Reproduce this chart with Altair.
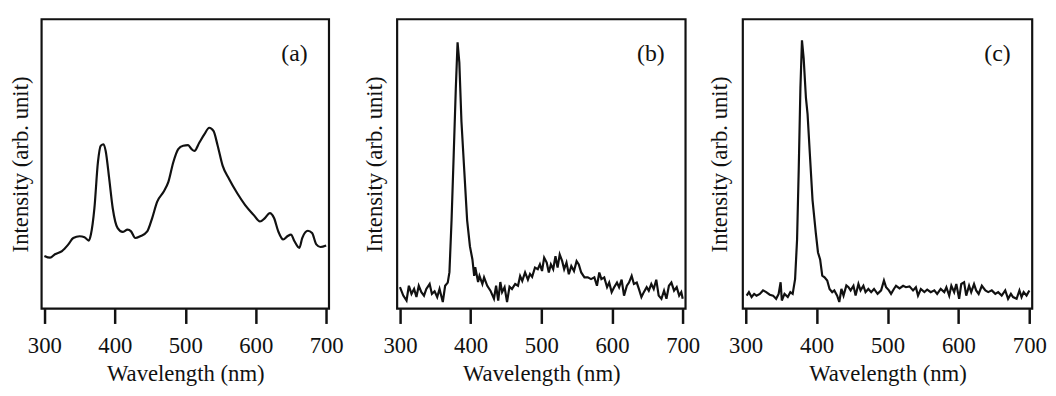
import altair as alt
import pandas as pd

# ---------------- data ----------------
wl_a = [300, 308, 315, 325, 334, 341, 350, 357, 363, 366, 371, 376, 380, 384, 387, 392,
        397, 404, 411, 418, 423, 429, 436, 446, 453, 460, 469, 476, 483, 490, 497, 504,
        509, 513, 520, 527, 534, 540, 546, 553, 562, 574, 585, 597, 606, 613, 620, 626,
        632, 639, 645, 650, 655, 662, 666, 674, 680, 686, 692, 700]
int_a = [18.2, 17.6, 18.8, 19.9, 22.2, 24.4, 25.0, 24.7, 23.5, 25.6, 34.7, 50.6, 56.3, 56.8, 54.5, 44.9,
         34.7, 27.8, 26.5, 27.3, 26.7, 24.4, 25.0, 26.7, 31.3, 36.9, 40.3, 43.8, 50.6, 55.1, 56.3, 56.5,
         55.1, 54.5, 57.4, 60.2, 62.5, 61.4, 56.3, 49.4, 44.9, 39.8, 35.8, 32.4, 30.1, 31.3, 33.0, 31.3,
         26.7, 23.9, 25.0, 25.6, 23.3, 21.0, 24.4, 26.9, 26.1, 22.2, 21.3, 21.8]

wl_b = [300, 304.7, 309.3, 312.6, 316.3, 320, 323.3, 326.6, 330.3, 334, 337.3, 342, 345.2, 349,
        352.7, 356, 360.6, 363.9, 367.6, 370, 373, 376, 379, 381.5, 384, 387, 391, 395, 399,
        402.5, 405, 406.5, 410.5, 412.5, 416.6, 419, 423.5, 428, 433, 436, 439, 442, 444.5,
        448, 451.5, 455, 458.5, 463, 467, 470, 473, 477, 481, 484, 487, 491, 495, 498, 501,
        504, 507.6, 510.6, 513.5, 516.8, 520, 523, 526, 529.5, 532.3, 535.6, 538.9, 542.4,
        546.2, 549.9, 553, 556.4, 561, 565.7, 570.3, 575, 578.7, 582, 585, 589, 593, 596,
        599.5, 603, 607, 610, 613.6, 617, 621, 624, 627.8, 631, 635, 638, 641.6, 645, 649,
        652, 655.6, 659, 662.6, 666, 669.9, 673.6, 677, 680.5, 684, 687.8, 691.5, 695, 698, 700]
int_b = [7.4, 4.5, 2.8, 7.9, 5.1, 6.8, 4.0, 7.9, 5.7, 4.5, 6.8, 8.5, 5.1, 6.0,
         4.0, 6.8, 2.3, 7.9, 9.0, 12.6, 30.6, 53.0, 76.0, 92.0, 85.0, 64.6, 47.6, 30.6, 21.5,
         17.0, 11.3, 14.3, 9.2, 11.3, 8.5, 10.8, 7.9, 6.2, 3.4, 7.9, 2.8, 9.2, 5.7,
         7.4, 2.3, 7.6, 6.8, 8.5, 7.9, 11.3, 9.6, 12.5, 10.0, 12.0, 11.0, 14.2, 13.6, 15.3, 13.0,
         17.6, 15.9, 12.5, 15.3, 13.6, 18.1, 14.2, 18.7, 16.4, 13.6, 15.9, 11.9, 14.7,
         13.0, 16.4, 15.3, 12.5, 10.8, 10.8, 10.2, 10.8, 7.9, 12.5, 10.2, 10.8, 7.4, 9.0,
         5.7, 7.4, 9.0, 7.4, 10.0, 4.5, 7.9, 9.0, 11.3, 8.5, 9.0, 6.8, 4.0, 5.7, 7.4,
         6.2, 8.5, 6.8, 10.0, 4.5, 3.4, 6.2, 3.4, 7.9, 9.0, 6.2, 7.4, 4.5, 5.7, 3.4]

wl_c = [301.4, 304.6, 308.4, 312, 315.3, 320, 324.5, 329, 334, 338.6, 343, 346.5, 349.3, 351,
        354.8, 359.4, 363, 366.3, 369.7, 372.5, 374.8, 377.2, 379.4, 381.8, 385, 387.3, 390.5,
        394.3, 398.9, 402, 405, 408, 411.3, 415, 418.3, 422, 425, 429, 432, 435, 438, 442,
        445, 448, 452, 455, 459, 462, 466, 469, 473, 477, 481, 486, 491, 495, 498, 502, 505,
        509, 512, 517, 522, 526, 531, 536, 540, 543, 547, 552, 556, 561, 566, 570, 575, 580,
        583, 587, 590, 594, 597, 601, 604, 608, 611, 615, 618, 622, 625, 628.5, 633, 638,
        642, 647, 652, 656, 661, 666, 670, 674, 677, 682, 686, 689, 692, 696, 700]
int_c = [4.5, 5.7, 4.0, 5.1, 4.5, 5.1, 6.3, 5.7, 4.8, 4.5, 3.4, 5.1, 9.1, 2.8,
         5.1, 4.0, 5.7, 5.1, 10.2, 23.9, 47.8, 76.2, 92.7, 86.5, 72.8, 67.2, 53.5,
         37.5, 26.2, 19.4, 17.0, 11.4, 10.8, 9.7, 6.8, 5.7, 6.3, 4.5, 2.3, 6.8, 4.5, 8.0,
         7.4, 6.3, 7.9, 4.5, 8.5, 6.3, 7.9, 5.7, 6.8, 5.7, 6.8, 5.1, 6.3, 9.7, 7.4, 6.3, 5.1,
         6.8, 7.9, 7.0, 7.9, 7.4, 7.7, 6.3, 7.4, 4.5, 6.8, 5.7, 6.6, 5.7, 6.3, 5.1, 6.8, 5.7,
         7.4, 4.5, 7.9, 5.7, 8.5, 3.4, 8.5, 9.1, 4.5, 7.9, 5.7, 8.5, 6.3, 5.1, 7.9, 6.3,
         5.7, 6.3, 5.1, 5.7, 4.5, 6.3, 3.4, 5.1, 4.0, 3.4, 6.3, 4.0, 5.7, 4.5, 6.3]

panel_labels = ["(a)", "(b)", "(c)"]
x_ticks = [300, 400, 500, 600, 700]

FONT = "Liberation Serif"


def panel(wl, inten, label, interp, title_pad, width):
    df = pd.DataFrame({"wl": wl, "intensity": inten})
    x = alt.X(
        "wl:Q",
        scale=alt.Scale(domain=[296, 704], nice=False, zero=False),
        axis=alt.Axis(
            values=x_ticks, title="Wavelength (nm)", grid=False, domain=False,
            ticks=True, tickSize=15, tickWidth=2.5, tickColor="#111111",
            labelFont=FONT, labelFontSize=23, labelColor="#111111", labelPadding=11,
            labelFlush=False, labelOverlap=False, format="d",
            titleFont=FONT, titleFontSize=23, titleFontWeight="normal",
            titleColor="#111111", titlePadding=6,
        ),
    )
    y = alt.Y(
        "intensity:Q",
        scale=alt.Scale(domain=[0, 100], nice=False, zero=False),
        axis=alt.Axis(
            title="Intensity (arb. unit)", labels=False, ticks=False, domain=False,
            grid=False, titleFont=FONT, titleFontSize=23, titleFontWeight="normal",
            titleColor="#111111", titlePadding=title_pad,
        ),
    )
    line = alt.Chart(df).mark_line(
        color="#111111", strokeWidth=2.2, interpolate=interp
    ).encode(x=x, y=y)
    txt = alt.Chart(pd.DataFrame({"label": [label]})).mark_text(
        font=FONT, fontSize=24, color="#111111"
    ).encode(x=alt.datum(655), y=alt.datum(88), text="label:N")
    return alt.layer(line, txt).properties(width=width, height=293)


pa = panel(wl_a, int_a, panel_labels[0], "monotone", 9, 291)
pb = panel(wl_b, int_b, panel_labels[1], "linear", 11, 292)
pc = panel(wl_c, int_c, panel_labels[2], "linear", 12, 293)

left_pair = alt.hconcat(pa, pb, spacing=17)
chart = alt.hconcat(left_pair, pc, spacing=5).properties(
    padding={"left": 0, "top": 7, "right": 0, "bottom": 0},
    background="white",
).configure_view(stroke="#111111", strokeWidth=2.2)

chart.save("out.html", embed_options={"renderer": "svg", "actions": False})
